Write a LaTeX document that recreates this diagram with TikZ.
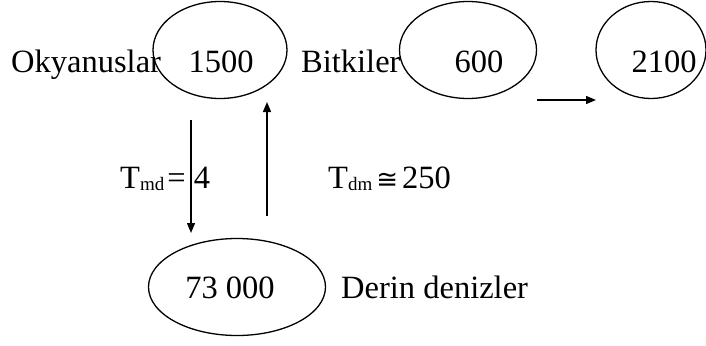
\documentclass[tikz,border=0pt]{standalone}
\usepackage{fontspec}
\setmainfont{Liberation Serif}
\newfontfamily\symfont{DejaVu Sans}
\usetikzlibrary{shapes.geometric,arrows.meta}

% small lowered subscript in text
\newcommand{\lowsub}[1]{\raisebox{-2pt}{\fontsize{19}{22}\selectfont #1}}

\begin{document}
\begin{tikzpicture}[x=1pt, y=-1pt,
    every node/.style={font=\fontsize{32.5}{38}\selectfont, inner sep=0pt},
    pool/.style={draw, ellipse, line width=1.3pt, minimum height=97pt},
    flow/.style={line width=1.4pt, -{Triangle[length=10pt,width=8pt]}}]
    \useasboundingbox (0,0) rectangle (706,345);

    % Draw the reservoirs
    \node[pool, minimum width=134pt] (okyanus) at (220,50) {};
    \node[pool, minimum width=137pt] (bitki) at (468,50) {};
    \node[pool, minimum width=110pt] (toplam) at (651,50) {};
    \node[pool, minimum width=177pt] (derin) at (237,287) {};

    % Amounts inside the reservoirs
    \node[anchor=base] (n1500) at (221,72) {1500};
    \node[anchor=base] (n600) at (479,72) {600};
    \node[anchor=base] (n2100) at (664,73) {2100};
    \node[anchor=base] (n73000) at (230,298) {73 000};

    % Names of the reservoirs
    \node[anchor=base west] (okyanuslar) at (11,72) {Okyanuslar};
    \node[anchor=base west] (bitkiler) at (301,72) {Bitkiler};
    \node[anchor=base west] (denizler) at (341,298) {Derin denizler};

    % Exchange times
    \node[anchor=base west] (tmd) at (120,188) {T\lowsub{md}\kern3pt=\ 4};
    \node[anchor=base west] (tdm) at (328,188) {T\lowsub{dm}\kern4pt{\symfont\fontsize{26}{30}\selectfont ≅}\kern4pt250};

    % End points of the arrows
    \coordinate (downtop) at (191,120);
    \coordinate (downend) at (191,233);
    \coordinate (uptop) at (267,102);
    \coordinate (upend) at (267,216);
    \coordinate (sumstart) at (537,100);
    \coordinate (sumend) at (596,100);

    % Draw the arrows
    \draw[flow] (downtop) -- (downend);
    \draw[flow] (upend) -- (uptop);
    \draw[flow] (sumstart) -- (sumend);
\end{tikzpicture}
\end{document}
